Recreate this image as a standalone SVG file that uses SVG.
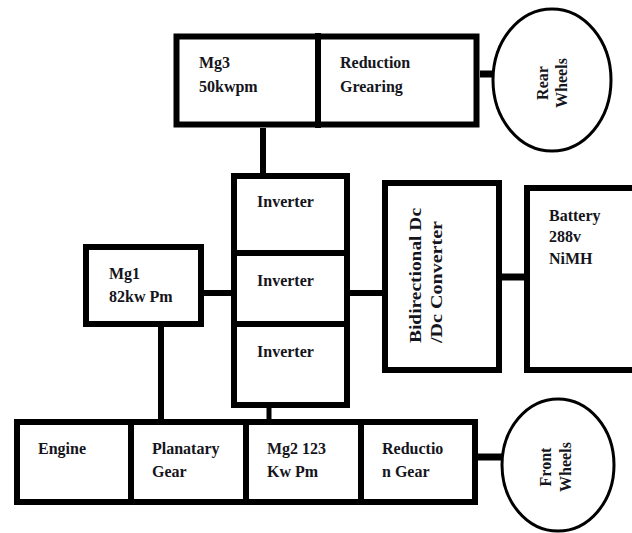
<svg xmlns="http://www.w3.org/2000/svg" width="632" height="533" viewBox="0 0 632 533">
<style>
.box{fill:#fff;stroke:#000;stroke-width:6}
.wheel{fill:#fff;stroke:#000;stroke-width:3}
.div{stroke:#000;stroke-width:6}
.c{stroke:#000;fill:none}
text{font-family:"Liberation Serif","Times New Roman",serif;font-weight:bold;font-size:16px;fill:#151520}
.mid{text-anchor:middle}
</style>
<rect width="632" height="533" fill="#fff"/>
<g id="connectors">
<line class="c" x1="480" y1="74" x2="495" y2="74" stroke-width="7"/>
<line class="c" x1="263" y1="128" x2="263" y2="174" stroke-width="6"/>
<line class="c" x1="204" y1="293" x2="232" y2="293" stroke-width="6"/>
<line class="c" x1="349" y1="293" x2="383" y2="293" stroke-width="6"/>
<line class="c" x1="500" y1="277" x2="525" y2="277" stroke-width="7"/>
<line class="c" x1="161" y1="326" x2="161" y2="420" stroke-width="6"/>
<line class="c" x1="269" y1="407" x2="269" y2="420" stroke-width="5"/>
<line class="c" x1="477" y1="457" x2="503" y2="457" stroke-width="7"/>
</g>
<g id="mg3-reduction">
<rect class="box" x="176.5" y="36.5" width="300" height="88" stroke-width="7"/>
<line class="div" x1="318" y1="33" x2="318" y2="128"/>
<text x="199" y="68">Mg3</text>
<text x="199" y="92">50kwpm</text>
<text x="340" y="68">Reduction</text>
<text x="340" y="92">Grearing</text>
</g>
<g id="rear-wheels">
<ellipse class="wheel" cx="552" cy="80" rx="59" ry="71"/>
<text class="mid" x="548" y="83" transform="rotate(-90 548 83)">Rear</text>
<text class="mid" x="567" y="83" transform="rotate(-90 567 83)">Wheels</text>
</g>
<g id="inverters">
<rect class="box" x="234" y="176" width="113" height="77"/>
<rect class="box" x="234" y="253" width="113" height="71"/>
<rect class="box" x="234" y="324" width="113" height="81"/>
<text x="257" y="207">Inverter</text>
<text x="257" y="286">Inverter</text>
<text x="257" y="357">Inverter</text>
</g>
<g id="mg1">
<rect class="box" x="86" y="247" width="115" height="77"/>
<text x="109" y="279">Mg1</text>
<text x="109" y="302">82kw Pm</text>
</g>
<g id="dcdc">
<rect class="box" x="385" y="183" width="114" height="187"/>
<text x="421" y="343" transform="rotate(-90 421 343)" textLength="135" lengthAdjust="spacingAndGlyphs">Bidirectional Dc</text>
<text x="442" y="343" transform="rotate(-90 442 343)" textLength="122" lengthAdjust="spacingAndGlyphs">/Dc Converter</text>
</g>
<g id="battery">
<rect class="box" x="527" y="188" width="120" height="182"/>
<text x="549" y="221">Battery</text>
<text x="549" y="242">288v</text>
<text x="549" y="264">NiMH</text>
</g>
<g id="drivetrain">
<rect class="box" x="17" y="422" width="458" height="80"/>
<line class="c" x1="14" y1="503" x2="478" y2="503" stroke-width="4"/>
<line class="div" x1="131" y1="419" x2="131" y2="505" stroke-width="5"/>
<line class="div" x1="246" y1="419" x2="246" y2="505" stroke-width="5"/>
<line class="div" x1="361" y1="419" x2="361" y2="505" stroke-width="5"/>
<text x="38" y="454">Engine</text>
<text x="152" y="454">Planatary</text>
<text x="152" y="477">Gear</text>
<text x="267" y="454">Mg2 123</text>
<text x="267" y="477">Kw Pm</text>
<text x="382" y="454">Reductio</text>
<text x="382" y="477">n Gear</text>
</g>
<g id="front-wheels">
<ellipse class="wheel" cx="558" cy="465" rx="56" ry="66"/>
<text class="mid" x="551" y="467" transform="rotate(-90 551 467)">Front</text>
<text class="mid" x="571" y="467" transform="rotate(-90 571 467)">Wheels</text>
</g>
</svg>
